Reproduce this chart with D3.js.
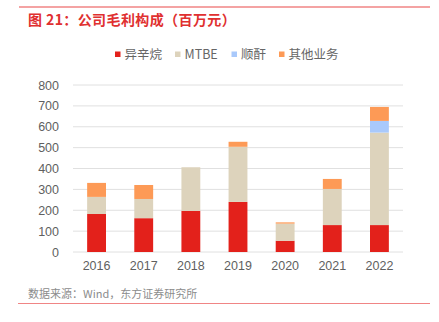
<!DOCTYPE html>
<html><head><meta charset="utf-8">
<script src="https://cdn.jsdelivr.net/npm/d3@7"></script>
<style>body{margin:0;background:#fff;}svg{display:block;font-family:"Noto Sans CJK SC","Liberation Sans",Arial,sans-serif;}</style>
</head><body>
<svg id="c" width="439" height="322"></svg>
<script>
const years = ["2016","2017","2018","2019","2020","2021","2022"];
const isooctane = [182,162,197,240,54,129,129];
const mtbe = [82,92,209,264,82,173,443];
const maleic = [0,0,0,0,0,0,56];
const others = [67,67,0,24,6,48,67];
const seriesNames = ["异辛烷","MTBE","顺酐","其他业务"];
const seriesColors = ["#e3211b","#ddd3bc","#a9c9fb","#fd9a56"];
const yTicks = [0,100,200,300,400,500,600,700,800];

const svg = d3.select("#c");
const rows = years.map((y,i)=>({year:y,"异辛烷":isooctane[i],"MTBE":mtbe[i],"顺酐":maleic[i],"其他业务":others[i]}));
const stack = d3.stack().keys(seriesNames)(rows);

const x = d3.scaleBand().domain(years).range([73,403]).paddingInner(0.6).paddingOuter(0.3);
const y = d3.scaleLinear().domain([0,800]).range([252,85]);

// title lines
svg.append("line").attr("x1",19).attr("x2",430).attr("y1",7).attr("y2",7).attr("stroke","#f08585").attr("stroke-width",1.5);
svg.append("text").attr("x",28).attr("y",25).attr("fill","#e03030").attr("font-size",14).attr("font-weight","bold").attr("letter-spacing",0.4).text("图 21：公司毛利构成（百万元）");

// grid
svg.append("g").selectAll("line").data(yTicks).join("line")
  .attr("x1",73).attr("x2",403).attr("y1",d=>y(d)).attr("y2",d=>y(d))
  .attr("stroke","#e0e0e0").attr("stroke-width",1);

// y axis labels
const yAxis = d3.axisLeft(y).tickValues(yTicks).tickSize(0).tickPadding(0);
const gy = svg.append("g").attr("transform","translate(59,0)").call(yAxis);
gy.select(".domain").remove();
gy.selectAll("text").attr("font-size",12.5).attr("fill","#5f5f5f").attr("font-family","Liberation Sans, Arial, sans-serif");

// bars
svg.append("g").selectAll("g").data(stack).join("g")
  .attr("fill",(d,i)=>seriesColors[i])
  .selectAll("rect").data(d=>d).join("rect")
  .attr("x",d=>x(d.data.year)).attr("width",x.bandwidth())
  .attr("y",d=>y(d[1])).attr("height",d=>Math.max(0,y(d[0])-y(d[1])));

// x axis labels
const xAxis = d3.axisBottom(x).tickSize(0).tickPadding(0);
const gx = svg.append("g").attr("transform","translate(0,261)").call(xAxis);
gx.select(".domain").remove();
gx.selectAll("text").attr("font-size",12.5).attr("fill","#5f5f5f").attr("dy","0.71em").attr("font-family","Liberation Sans, Arial, sans-serif");

// legend
const legX = [115,175,231.5,279];
const lg = svg.append("g").selectAll("g").data(seriesNames).join("g")
  .attr("transform",(d,i)=>`translate(${legX[i]},54)`);
lg.append("rect").attr("x",0).attr("y",-2.5).attr("width",5.5).attr("height",5.5).attr("fill",(d,i)=>seriesColors[i]);
lg.append("text").attr("x",9.5).attr("y",0).attr("dy","0.36em").attr("font-size",12.5).attr("fill","#666").text(d=>d);

// source
svg.append("text").attr("x",28).attr("y",298).attr("font-size",11).attr("fill","#8c8c8c").text("数据来源：Wind，东方证券研究所");
svg.append("line").attr("x1",18).attr("x2",430).attr("y1",303.5).attr("y2",303.5).attr("stroke","#f08585").attr("stroke-width",1);
</script>
</body></html>
